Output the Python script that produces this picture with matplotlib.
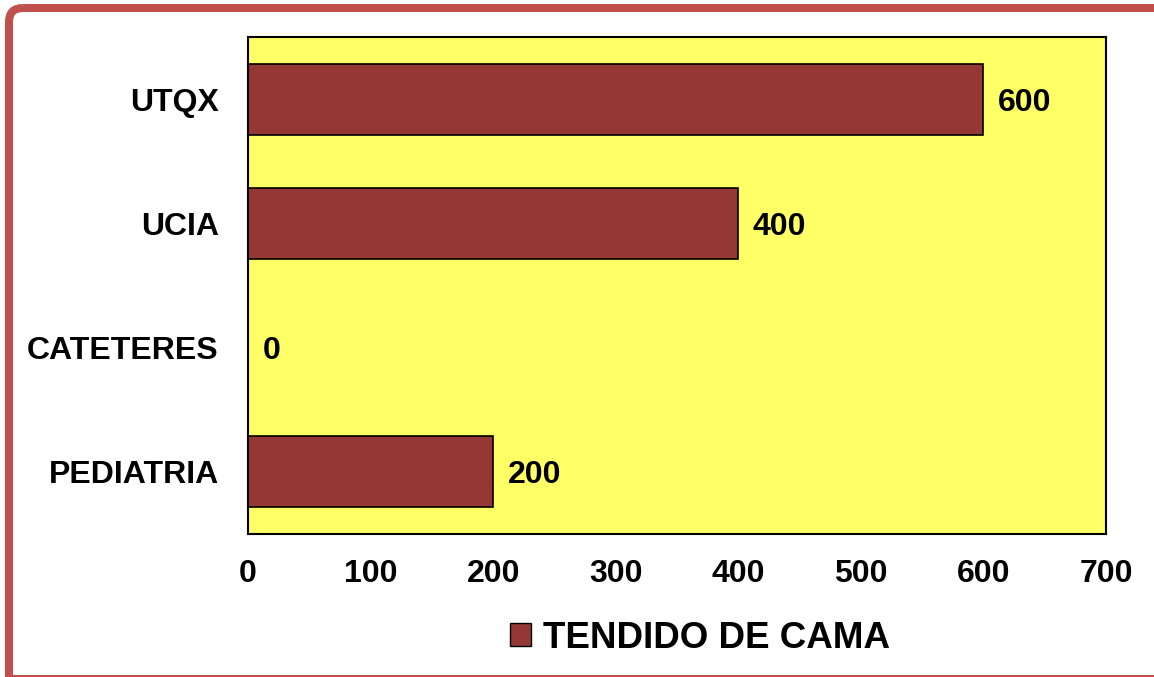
import matplotlib.pyplot as plt
from matplotlib.patches import FancyBboxPatch, Patch

# data
categories = ['PEDIATRIA', 'CATETERES', 'UCIA', 'UTQX']
values = [200, 0, 400, 600]
series_name = 'TENDIDO DE CAMA'
x_ticks = [0, 100, 200, 300, 400, 500, 600, 700]

W, H = 1154, 677
fig = plt.figure(figsize=(W / 100, H / 100), dpi=100)
plt.rcParams['font.family'] = ['Liberation Sans', 'DejaVu Sans']

# outer rounded frame, drawn in pixel coordinates (right/bottom run off the canvas)
bg = fig.add_axes([0, 0, 1, 1])
bg.set_xlim(0, W)
bg.set_ylim(H, 0)
bg.axis('off')
frame = FancyBboxPatch((9, 8), W + 60, H + 60,
                       boxstyle='round,pad=0,rounding_size=14',
                       facecolor='none', edgecolor='#C0504D',
                       linewidth=5.8, clip_on=True)
bg.add_patch(frame)
bg.plot([9, W], [676, 676], color='#C0504D', linewidth=1.5)

ax = fig.add_axes([248 / W, 1 - 534 / H, 858 / W, 497 / H])
ax.set_facecolor('#FFFF66')

ypos = range(len(categories))
ax.barh(ypos, values, height=0.57, color='#953735', edgecolor='black', linewidth=1.2)

for y, v in zip(ypos, values):
    ax.text(v + 12, y, f'{v}', va='center_baseline', ha='left',
            fontsize=23, fontweight='bold')

ax.set_xlim(0, 700)
ax.set_ylim(-0.5, 3.5)
ax.set_xticks(x_ticks)
ax.set_xticklabels([str(t) for t in x_ticks], fontsize=23, fontweight='bold')
ax.set_yticks(list(ypos))
ax.set_yticklabels(categories, fontsize=23, fontweight='bold')
ax.tick_params(axis='x', length=0, pad=18)
ax.tick_params(axis='y', length=0, pad=21)
for s in ax.spines.values():
    s.set_linewidth(1.5)
    s.set_color('black')

handle = Patch(facecolor='#953735', edgecolor='black', linewidth=1.0)
fig.legend([handle], [series_name], loc='center',
           bbox_to_anchor=(700 / W, 1 - 638 / H), frameon=False,
           prop={'size': 26.5, 'weight': 'bold'}, handlelength=0.55,
           handleheight=0.55, handletextpad=0.33)

fig.savefig('out.png', dpi=100)
